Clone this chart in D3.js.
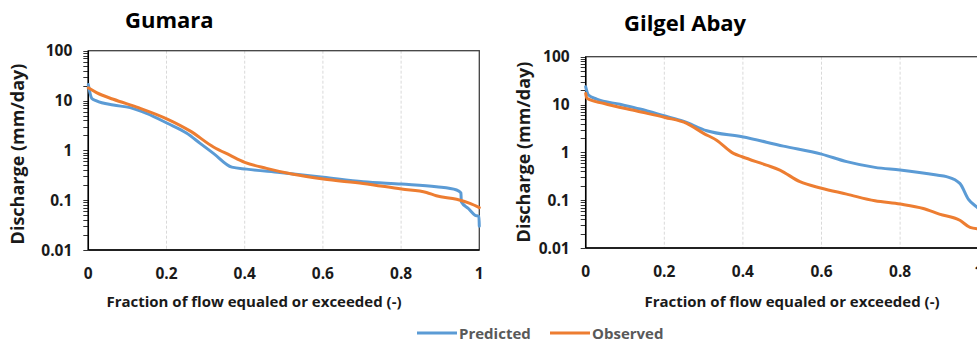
<!DOCTYPE html>
<html>
<head>
<style>
  body { margin: 0; background: #fff; }
  svg { display: block; font-family: "Open Sans", Lato, sans-serif; }
  .tick-lbl { font-size: 15.5px; font-weight: bold; fill: #1a1a1a; }
  .ttl { font-size: 22px; font-weight: bold; fill: #000; }
  .axt { font-size: 15px; font-weight: bold; fill: #1a1a1a; }
  .yt { font-size: 18px; font-weight: bold; fill: #1a1a1a; }
  .leg { font-size: 15px; font-weight: bold; fill: #595959; }
</style>
<script src="https://d3js.org/d3.v7.min.js"></script>
</head>
<body>
<svg width="977" height="344"></svg>
<script>
// Gumara
var gumPredX = [0, 0.009, 0.021, 0.064, 0.107, 0.149, 0.202, 0.252, 0.286, 0.32, 0.367, 0.405, 0.49, 0.601, 0.703, 0.801, 0.89, 0.942, 0.953, 0.954, 0.972, 0.989, 0.999, 1.0];
var gumPred  = [21, 11, 9.8, 8.1, 7.2, 5.5, 3.5, 2.2, 1.38, 0.87, 0.46, 0.42, 0.36, 0.29, 0.235, 0.21, 0.186, 0.16, 0.14, 0.093, 0.068, 0.05, 0.047, 0.03];
var gumObsX  = [0, 0.021, 0.064, 0.128, 0.202, 0.26, 0.32, 0.362, 0.4, 0.456, 0.524, 0.601, 0.703, 0.801, 0.865, 0.89, 0.942, 0.976, 1.0];
var gumObs   = [18, 14.4, 10.6, 7.2, 4.25, 2.46, 1.17, 0.8, 0.575, 0.435, 0.33, 0.265, 0.217, 0.167, 0.143, 0.123, 0.104, 0.086, 0.071];

// Gilgel Abay
var gilPredX = [0, 0.007, 0.028, 0.087, 0.138, 0.202, 0.248, 0.308, 0.398, 0.503, 0.6, 0.664, 0.736, 0.8, 0.893, 0.918, 0.952, 0.974, 0.995, 1.0];
var gilPred  = [23.5, 15.8, 13, 10.1, 8.05, 5.75, 4.5, 2.83, 2.12, 1.35, 0.92, 0.64, 0.485, 0.426, 0.335, 0.31, 0.224, 0.104, 0.072, 0.066];
var gilObsX  = [0, 0.003, 0.045, 0.13, 0.202, 0.257, 0.3, 0.333, 0.376, 0.398, 0.46, 0.494, 0.545, 0.6, 0.664, 0.736, 0.8, 0.859, 0.9, 0.952, 0.978, 1.0];
var gilObs   = [17, 13.5, 10.6, 7.3, 5.37, 4.05, 2.5, 1.8, 0.955, 0.81, 0.54, 0.426, 0.243, 0.177, 0.134, 0.097, 0.083, 0.067, 0.051, 0.038, 0.027, 0.025];

var xTicks = [0, 0.2, 0.4, 0.6, 0.8, 1];
var yTicks = [0.01, 0.1, 1, 10, 100];
var yLabels = ["0.01", "0.1", "1", "10", "100"];

var blue = "#5b9bd5", orange = "#ed7d31";
var svg = d3.select("svg");

function panel(o) {
  var x = d3.scaleLinear().domain([0, 1]).range([o.left, o.right]);
  var y = d3.scaleLog().domain([0.01, 100]).range([o.bottom, o.top]);
  var g = svg.append("g");

  // grid
  g.selectAll(".grid").data(xTicks.slice(1, -1)).enter().append("line")
    .attr("x1", d => x(d)).attr("x2", d => x(d))
    .attr("y1", o.top).attr("y2", o.bottom)
    .attr("stroke", "#d9d9d9").attr("stroke-dasharray", "3,2").attr("stroke-width", 1);

  // frame
  g.append("rect").attr("x", o.left).attr("y", o.top)
    .attr("width", o.right - o.left).attr("height", o.bottom - o.top)
    .attr("fill", "none").attr("stroke", "#404040").attr("stroke-width", 1.3);

  // y minor + major ticks
  var minor = [];
  for (var e = -2; e < 2; e++) for (var k = 1; k < 10; k++) minor.push(k * Math.pow(10, e));
  minor.push(100);
  g.selectAll(".mt").data(minor).enter().append("line")
    .attr("x1", o.left - 5).attr("x2", o.left)
    .attr("y1", d => Math.round(y(d)) + 0.5).attr("y2", d => Math.round(y(d)) + 0.5)
    .attr("stroke", "#333").attr("stroke-width", 1);

  g.selectAll(".yl").data(yTicks).enter().append("text")
    .attr("class", "tick-lbl")
    .attr("x", o.left - 16).attr("y", d => y(d) + 5.5)
    .attr("text-anchor", "end")
    .text((d, i) => yLabels[i]);

  g.selectAll(".xl").data(xTicks).enter().append("text")
    .attr("class", "tick-lbl")
    .attr("x", d => x(d)).attr("y", o.bottom + 29)
    .attr("text-anchor", "middle")
    .text(d => d);

  // axis lines
  g.append("line").attr("x1", o.left).attr("x2", o.left).attr("y1", o.top).attr("y2", o.bottom)
    .attr("stroke", "#000").attr("stroke-width", 1.5);
  g.append("line").attr("x1", o.left).attr("x2", o.right).attr("y1", o.bottom).attr("y2", o.bottom)
    .attr("stroke", "#000").attr("stroke-width", 1.5);

  var line = d3.line().curve(d3.curveMonotoneX).x(d => x(d[0])).y(d => y(d[1]));
  [[o.predX, o.pred, blue], [o.obsX, o.obs, orange]].forEach(function (s) {
    g.append("path")
      .datum(s[0].map((v, i) => [v, s[1][i]]))
      .attr("d", line)
      .attr("fill", "none").attr("stroke", s[2]).attr("stroke-width", 3)
      .attr("stroke-linejoin", "round").attr("stroke-linecap", "round");
  });

  g.append("text").attr("class", "ttl").attr("x", o.titleX).attr("y", o.titleY).text(o.title);
  g.append("text").attr("class", "axt").attr("x", o.axX).attr("y", 307)
    .attr("text-anchor", "middle").text("Fraction of flow equaled or exceeded (-)");
  g.append("text").attr("class", "yt").attr("transform", "translate(" + o.yTitleX + "," + o.yTitleY + ") rotate(-90)")
    .attr("text-anchor", "middle").text("Discharge (mm/day)");
}

panel({left: 88.3, right: 479.3, top: 50.7, bottom: 250, title: "Gumara", titleX: 125, titleY: 28,
  axX: 254, yTitleX: 24, yTitleY: 154,
  predX: gumPredX, pred: gumPred, obsX: gumObsX, obs: gumObs});
panel({left: 585.7, right: 978.7, top: 56.7, bottom: 248, title: "Gilgel Abay", titleX: 624, titleY: 31,
  axX: 792, yTitleX: 530, yTitleY: 152,
  predX: gilPredX, pred: gilPred, obsX: gilObsX, obs: gilObs});

// legend
var leg = svg.append("g");
[["Predicted", blue, 417], ["Observed", orange, 550]].forEach(function (d) {
  leg.append("line").attr("x1", d[2]).attr("x2", d[2] + 40).attr("y1", 333).attr("y2", 333)
    .attr("stroke", d[1]).attr("stroke-width", 3);
  leg.append("text").attr("class", "leg").attr("x", d[2] + 42).attr("y", 338.5).text(d[0]);
});
</script>
</body>
</html>
